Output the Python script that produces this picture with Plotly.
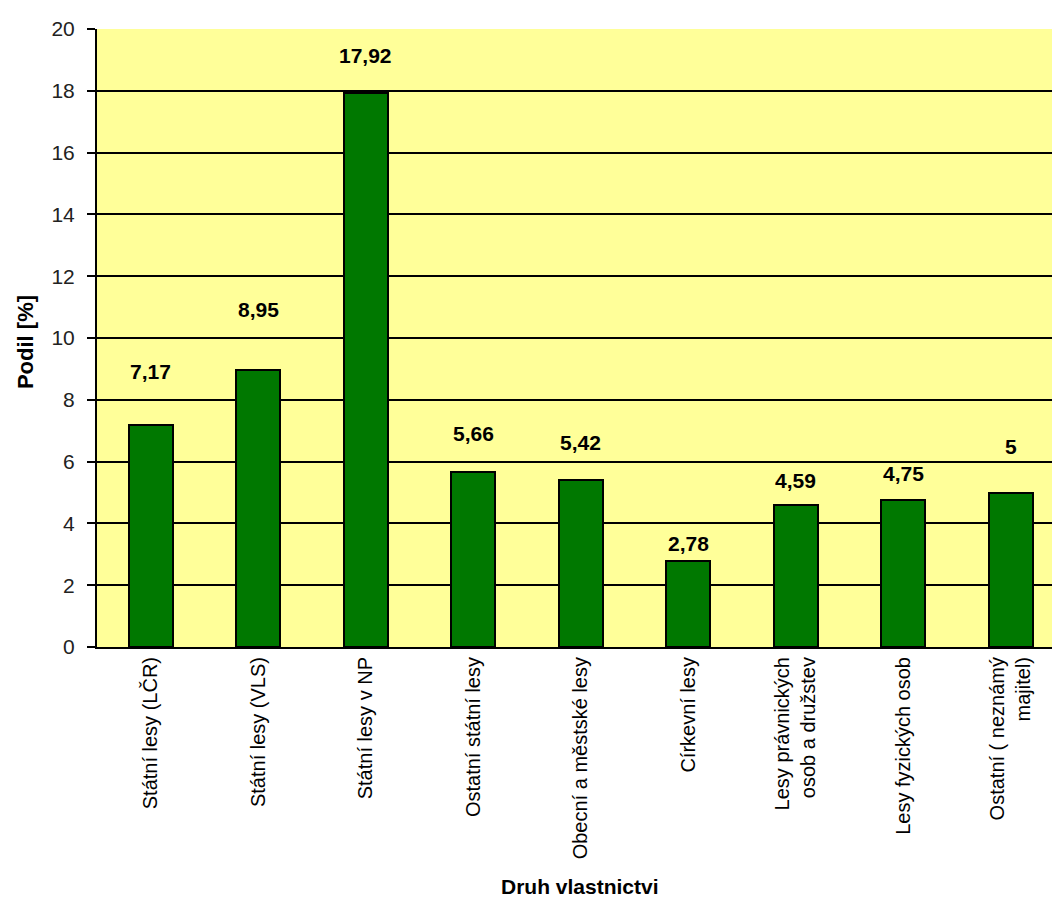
import plotly.graph_objects as go

# Ownership categories and their share in percent
categories = [
    "Státní lesy (LČR)",
    "Státní lesy (VLS)",
    "Státní lesy v NP",
    "Ostatní státní lesy",
    "Obecní a městské lesy",
    "Církevní lesy",
    "Lesy právnických<br>osob a družstev",
    "Lesy fyzických osob",
    "Ostatní ( neznámý<br>majitel)",
]
shares = [7.17, 8.95, 17.92, 5.66, 5.42, 2.78, 4.59, 4.75, 5]
y_ticks = [0, 2, 4, 6, 8, 10, 12, 14, 16, 18, 20]

# pixel lift of each value label above its bar top
label_lift = [54, 61, 38, 39, 37, 18, 25, 27, 46]

FONT = "Liberation Sans, Arial, sans-serif"

fig = go.Figure()
fig.add_trace(
    go.Bar(
        x=list(range(len(categories))),
        y=shares,
        width=0.41,
        marker=dict(color="#007800", line=dict(color="#000000", width=2)),
        hoverinfo="skip",
    )
)

for i, (v, lift) in enumerate(zip(shares, label_lift)):
    fig.add_annotation(
        x=i, y=v, xref="x", yref="y",
        text="<b>" + f"{v:g}".replace(".", ",") + "</b>",
        showarrow=False, yanchor="middle", xanchor="center", yshift=lift,
        font=dict(family=FONT, size=21, color="#000000"),
    )

# axis titles
fig.add_annotation(
    x=0.506, y=-0.387, xref="paper", yref="paper",
    text="<b>Druh vlastnictvi</b>", showarrow=False,
    xanchor="center", yanchor="middle",
    font=dict(family=FONT, size=21, color="#000000"),
)
fig.add_annotation(
    x=-0.075, y=0.494, xref="paper", yref="paper",
    text="<b>Podil [%]</b>", showarrow=False, textangle=-90,
    xanchor="center", yanchor="middle",
    font=dict(family=FONT, size=22, color="#000000"),
)

fig.update_layout(
    width=1052, height=901,
    margin=dict(l=97, r=0, t=29, b=254, autoexpand=False),
    paper_bgcolor="#FFFFFF",
    plot_bgcolor="#FFFF99",
    showlegend=False,
    bargap=0,
    xaxis=dict(
        type="linear",
        range=[-0.5, 8.384],
        tickmode="array",
        tickvals=list(range(len(categories))),
        ticktext=categories,
        tickangle=-90,
        ticks="",
        showgrid=False,
        zeroline=False,
        showline=True, linecolor="#000000", linewidth=2,
        tickfont=dict(family=FONT, size=20, color="#000000"),
        automargin=False,
    ),
    yaxis=dict(
        range=[0, 20],
        tickmode="array",
        tickvals=y_ticks,
        ticks="outside", ticklen=8, tickwidth=2, tickcolor="#000000",
        ticklabelstandoff=8,
        showgrid=True, gridcolor="#000000", gridwidth=2,
        zeroline=False,
        showline=True, linecolor="#000000", linewidth=2,
        tickfont=dict(family=FONT, size=21, color="#222222"),
        automargin=False,
    ),
)

# boundary ticks between categories on the x axis
boundaries = [k - 0.5 for k in range(len(categories) + 1)]
fig.add_trace(
    go.Scatter(
        x=[b for b in boundaries for _ in (0, 1, 2)],
        y=[v for _ in boundaries for v in (0, -0.23, None)],
        mode="lines", line=dict(color="#000000", width=2),
        hoverinfo="skip", cliponaxis=False,
    )
)

fig.write_html("out.html")
